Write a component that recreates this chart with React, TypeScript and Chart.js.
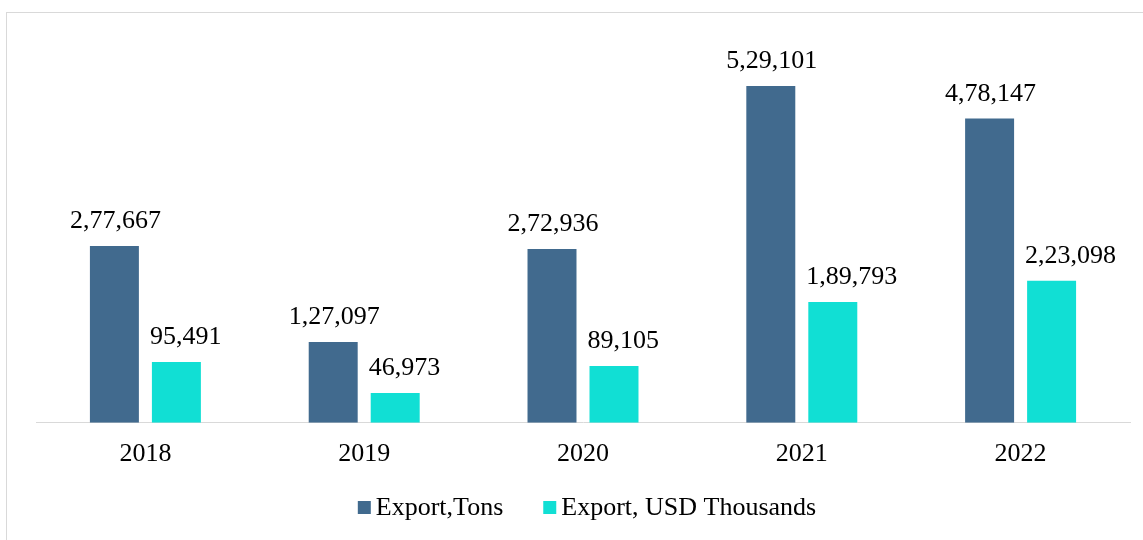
import React, { useEffect, useRef } from "react";
import { Chart, registerables } from "chart.js";

Chart.register(...registerables);

const categories = ["2018", "2019", "2020", "2021", "2022"];
const exportTons = [277667, 127097, 272936, 529101, 478147];
const exportUsdThousands = [95491, 46973, 89105, 189793, 223098];
const seriesNames = ["Export,Tons", "Export, USD Thousands"];
const seriesColors = ["#416A8E", "#11DFD4"];

const FONT = "'Liberation Serif', 'Times New Roman', Times, serif";

function fmtIN(n: number): string {
  const s = String(Math.round(n));
  if (s.length <= 3) return s;
  const last3 = s.slice(-3);
  let rest = s.slice(0, -3);
  const parts: string[] = [];
  while (rest.length > 2) {
    parts.unshift(rest.slice(-2));
    rest = rest.slice(0, -2);
  }
  if (rest) parts.unshift(rest);
  return parts.join(",") + "," + last3;
}

const labelPlugin = {
  id: "barLabels",
  afterDatasetsDraw(chart: any) {
    const ctx = chart.ctx;
    ctx.save();
    ctx.font = `26px ${FONT}`;
    ctx.fillStyle = "#000";
    ctx.textBaseline = "alphabetic";
    chart.data.datasets.forEach((ds: any, di: number) => {
      const meta = chart.getDatasetMeta(di);
      meta.data.forEach((el: any, i: number) => {
        const txt = fmtIN(ds.data[i]);
        if (di === 0) {
          ctx.textAlign = "center";
          ctx.fillText(txt, el.x + 1, el.y - 18);
        } else {
          ctx.textAlign = "left";
          ctx.fillText(txt, el.x - el.width / 2 - 2, el.y - 18);
        }
      });
    });
    ctx.restore();
  },
};

const legendPlugin = {
  id: "customLegend",
  afterDraw(chart: any) {
    const ctx = chart.ctx;
    ctx.save();
    ctx.font = `26px ${FONT}`;
    ctx.textBaseline = "alphabetic";
    ctx.textAlign = "left";
    const box = 13;
    const gapBoxText = 5;
    const gapItems = 40;
    const items = chart.data.datasets.map((ds: any) => ({
      text: ds.label,
      color: ds.backgroundColor,
      w: ctx.measureText(ds.label).width,
    }));
    const total =
      items.reduce((a: number, it: any) => a + box + gapBoxText + it.w, 0) +
      gapItems * (items.length - 1);
    const center = (chart.chartArea.left + chart.chartArea.right) / 2 + 4;
    let x = center - total / 2;
    const baseline = 515;
    items.forEach((it: any) => {
      ctx.fillStyle = it.color;
      ctx.fillRect(x, baseline - 14, box, box);
      x += box + gapBoxText;
      ctx.fillStyle = "#000";
      ctx.fillText(it.text, x, baseline);
      x += it.w + gapItems;
    });
    ctx.restore();
  },
};

export default function App() {
  const ref = useRef<HTMLCanvasElement | null>(null);

  useEffect(() => {
    if (!ref.current) return;
    const chart = new Chart(ref.current, {
      type: "bar",
      data: {
        labels: categories,
        datasets: [
          {
            label: seriesNames[0],
            data: exportTons,
            backgroundColor: seriesColors[0],
            categoryPercentage: 0.5667,
            barPercentage: 0.79,
          },
          {
            label: seriesNames[1],
            data: exportUsdThousands,
            backgroundColor: seriesColors[1],
            categoryPercentage: 0.5667,
            barPercentage: 0.79,
          },
        ],
      },
      options: {
        animation: false,
        responsive: false,
        layout: { padding: { left: 36, right: 13, top: 41, bottom: 54 } },
        plugins: {
          legend: { display: false },
          tooltip: { enabled: false },
          title: { display: false },
        },
        scales: {
          x: {
            grid: { display: false, drawTicks: false },
            border: { display: true, color: "#D9D9D9", width: 1 },
            ticks: {
              color: "#000",
              font: { family: FONT, size: 26 },
              padding: 16,
            },
          },
          y: {
            display: false,
            min: 0,
            max: 600000,
          },
        },
      },
      plugins: [labelPlugin, legendPlugin],
    });
    return () => chart.destroy();
  }, []);

  return (
    <div
      style={{
        position: "fixed",
        left: 0,
        top: 0,
        width: 1143,
        height: 540,
        background: "#fff",
        overflow: "hidden",
      }}
    >
      <div
        style={{
          position: "absolute",
          left: 6,
          top: 12,
          width: 1200,
          height: 600,
          border: "1px solid #D9D9D9",
        }}
      />
      <canvas
        ref={ref}
        width={1143}
        height={540}
        style={{ position: "absolute", left: 0, top: 0, width: 1143, height: 540 }}
      />
    </div>
  );
}
